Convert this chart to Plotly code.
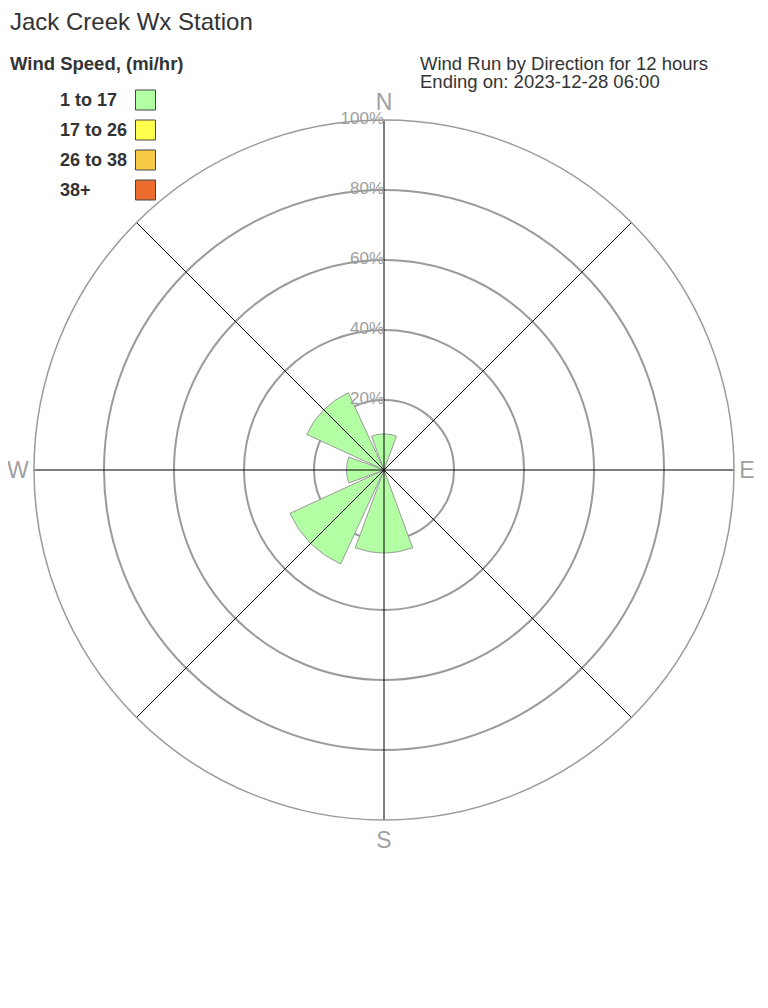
import plotly.graph_objects as go

# ---- data ----
directions = ["N", "NE", "E", "SE", "S", "SW", "W", "NW"]
pct_1_17 = [10.3, 0, 0, 0, 23.7, 29.6, 10.7, 24.3]
pct_17_26 = [0, 0, 0, 0, 0, 0, 0, 0]
pct_26_38 = [0, 0, 0, 0, 0, 0, 0, 0]
pct_38p = [0, 0, 0, 0, 0, 0, 0, 0]
speed_labels = ["1 to 17", "17 to 26", "26 to 38", "38+"]
speed_colors = ["#b3ffa3", "#ffff4d", "#f7cb45", "#ec6c2d"]
radial_ticks = [20, 40, 60, 80, 100]
radial_ticktext = ["20%", "40%", "60%", "80%", "100%"]
compass_labels = ["N", "E", "S", "W"]

# page body has an 8px margin, so the figure is placed at (8, 8)
OFF = 8
W, H = 760, 1000
FONT = "Arial, Liberation Sans, sans-serif"

def px_x(x):
    return (x - OFF) / W

def px_y(y):
    return 1 - (y - OFF) / H

fig = go.Figure()

series = [pct_1_17, pct_17_26, pct_26_38, pct_38p]
for lab, col, vals in zip(speed_labels, speed_colors, series):
    fig.add_trace(go.Barpolar(
        r=vals, theta=directions, name=lab,
        marker=dict(color=col, line=dict(color="#999999", width=1)),
        showlegend=False, hoverinfo="skip",
    ))

# spokes drawn above the wedges
sp_r, sp_t = [], []
for d in directions:
    sp_r += [0, 100, None]
    sp_t += [d, d, None]
fig.add_trace(go.Scatterpolar(
    r=sp_r, theta=sp_t, mode="lines",
    line=dict(color="black", width=1), showlegend=False, hoverinfo="skip",
))

# radial labels
fig.add_trace(go.Scatterpolar(
    r=radial_ticks, theta=["N"] * len(radial_ticks), mode="text",
    text=radial_ticktext, textposition="middle left",
    textfont=dict(family=FONT, size=17, color="#a0a0a0"),
    showlegend=False, hoverinfo="skip",
))

fig.update_layout(
    width=W, height=H,
    margin=dict(l=0, r=0, t=0, b=0),
    paper_bgcolor="white", plot_bgcolor="white",
    showlegend=False,
    polar=dict(
        domain=dict(x=[px_x(34), px_x(734)], y=[px_y(820), px_y(120)]),
        bgcolor="white",
        bargap=0.1,
        radialaxis=dict(
            range=[0, 100], tickvals=radial_ticks, showticklabels=False,
            ticks="", showline=False, gridcolor="#9a9a9a", gridwidth=1.5,
            angle=90,
        ),
        angularaxis=dict(
            type="category", categoryarray=directions,
            rotation=90, direction="clockwise",
            tickvals=compass_labels, ticks="",
            tickfont=dict(family=FONT, size=23, color="#a0a0a0"),
            showgrid=False, showline=True, linecolor="#9a9a9a", linewidth=1.5,
        ),
    ),
)

ann = [
    dict(text="Jack Creek Wx Station", x=8, y=21, size=24, bold=False),
    dict(text="Wind Speed, (mi/hr)", x=8, y=63, size=18.5, bold=True),
    dict(text="Wind Run by Direction for 12 hours", x=418, y=63, size=18.5, bold=False),
    dict(text="Ending on: 2023-12-28 06:00", x=418, y=82, size=18.5, bold=False),
]
for a in ann:
    fig.add_annotation(
        text=("<b>%s</b>" % a["text"]) if a["bold"] else a["text"],
        xref="paper", yref="paper", x=px_x(a["x"]), y=px_y(a["y"]),
        xanchor="left", yanchor="middle", showarrow=False,
        font=dict(family=FONT, size=a["size"], color="#333333"),
    )

for i, (lab, col) in enumerate(zip(speed_labels, speed_colors)):
    yc = 100 + 30 * i
    fig.add_annotation(
        text="<b>%s</b>" % lab, xref="paper", yref="paper",
        x=px_x(58), y=px_y(yc), xanchor="left", yanchor="middle", showarrow=False,
        font=dict(family=FONT, size=18, color="#333333"),
    )
    fig.add_shape(
        type="rect", xref="paper", yref="paper",
        x0=px_x(135.5), x1=px_x(155.5), y0=px_y(yc + 10), y1=px_y(yc - 10),
        fillcolor=col, line=dict(color="#444444", width=1),
    )

fig.write_html("out.html")
